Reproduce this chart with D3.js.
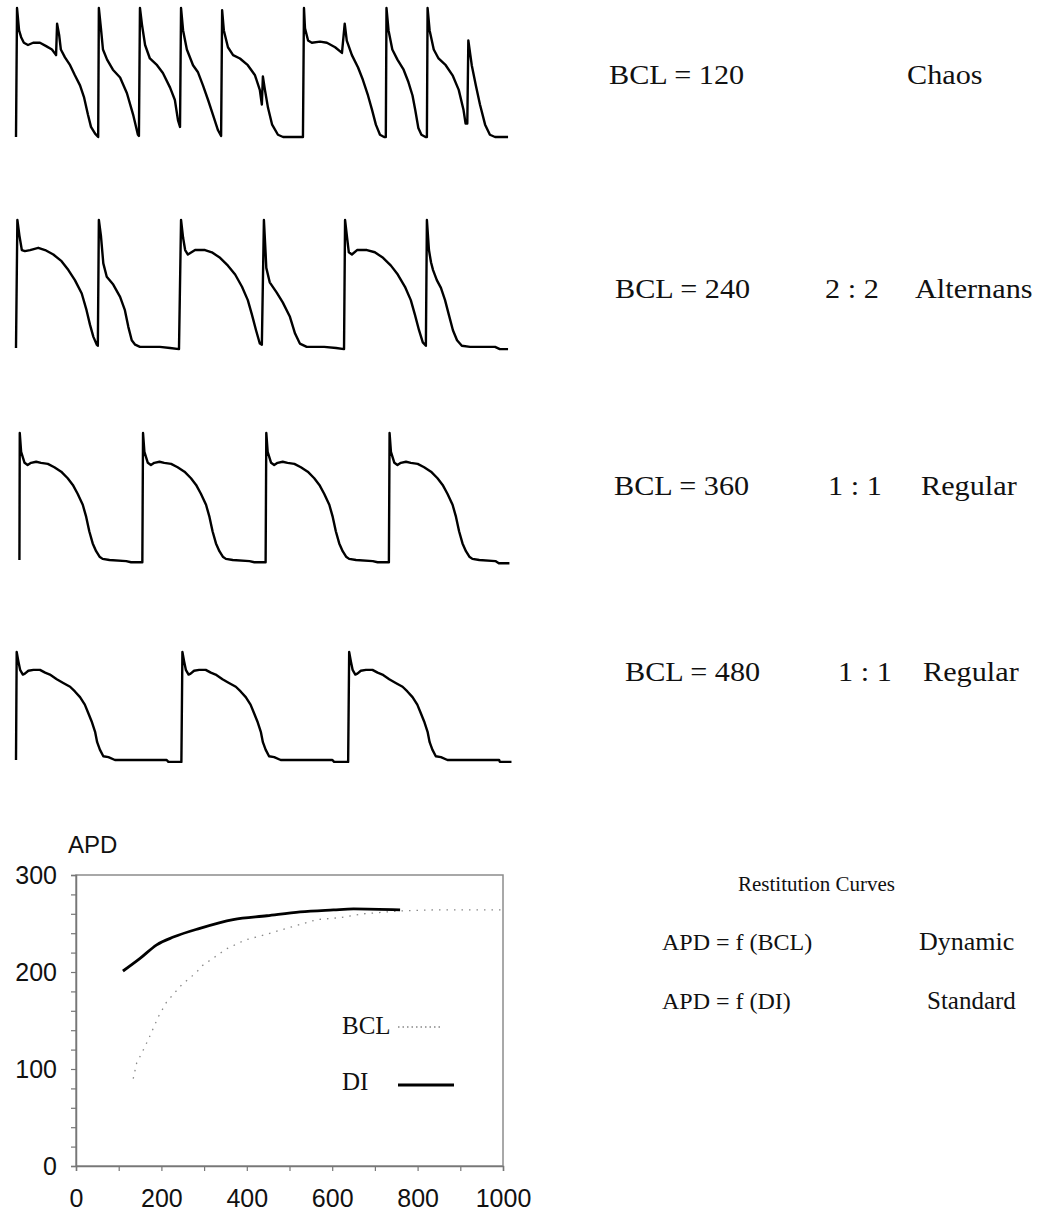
<!DOCTYPE html>
<html>
<head>
<meta charset="utf-8">
<script src="https://cdn.jsdelivr.net/npm/d3@7"></script>
<style>
  body { margin: 0; background: #fff; }
  svg { display: block; }
  .serif { font-family: "Liberation Serif", "Times New Roman", serif; fill: #111; }
  .sans { font-family: "Liberation Sans", Arial, sans-serif; fill: #111; }
</style>
</head>
<body>
<svg id="fig" width="1047" height="1217"></svg>
<script>
// membrane potential traces, [time (ms), potential (mV)]
const traceBCL120 = [
  [0,-85],[3,30],[9,10],[15,4],[23,-1],[35,-3],[50,-1],[70,-1],[88,-4],[105,-7],[117,-12],[120,16],[126,6],[131,-7],
  [143,-14],[158,-21],[172,-30],[187,-39],[199,-50],[210,-65],[219,-76],[231,-82],[240,-85],
  [242,30],[248,12],[254,-7],[266,-16],[283,-25],[304,-32],[324,-46],[342,-65],[356,-83],[359,-84],
  [362,30],[368,15],[377,-3],[391,-15],[412,-21],[429,-28],[450,-41],[464,-52],[473,-70],[479,-76],
  [482,30],[488,10],[499,-7],[517,-21],[531,-27],[546,-39],[561,-52],[575,-65],[590,-79],[599,-84],
  [602,28],[607,10],[619,-5],[634,-12],[654,-15],[677,-21],[698,-30],[712,-43],[718,-56],[721,-31],[727,-43],
  [736,-59],[748,-74],[765,-83],[780,-85],[838,-85],
  [841,30],[844,12],[853,1],[864,-1],[888,0],[908,-1],[932,-5],[952,-10],[960,16],[966,1],[981,-12],[999,-23],
  [1013,-34],[1028,-48],[1040,-61],[1051,-74],[1063,-83],[1075,-85],[1080,-85],
  [1082,30],[1088,10],[1099,-7],[1114,-16],[1132,-25],[1146,-36],[1158,-48],[1166,-61],[1175,-77],[1184,-83],[1196,-85],[1200,-85],
  [1202,30],[1208,10],[1220,-7],[1234,-15],[1255,-21],[1275,-30],[1293,-43],[1307,-61],[1313,-73],[1318,-73],[1321,1],
  [1331,-21],[1343,-39],[1355,-56],[1370,-74],[1384,-83],[1399,-85],[1437,-85]
];
const traceBCL240 = [
  [0,-85],[4,30],[10,16],[17,3],[26,2],[41,3],[65,5],[85,3],[109,-1],[133,-7],[153,-15],[172,-24],[192,-36],[206,-51],
  [216,-64],[226,-75],[236,-82],[239,-83],
  [242,30],[248,16],[255,-9],[265,-21],[284,-28],[304,-39],[318,-51],[328,-66],[338,-78],[348,-82],[362,-84],[420,-84],[450,-85],[476,-86],
  [482,30],[488,14],[494,3],[502,-1],[523,3],[552,3],[572,1],[596,-4],[619,-11],[640,-19],[660,-30],[677,-42],[689,-55],
  [701,-69],[712,-81],[718,-82],
  [724,30],[729,0],[731,-13],[741,-26],[761,-35],[779,-44],[800,-57],[815,-72],[829,-81],[849,-84],[900,-84],[935,-85],[958,-86],
  [961,30],[967,14],[972,1],[981,-1],[996,3],[1025,3],[1048,1],[1072,-4],[1095,-11],[1115,-19],[1136,-30],[1153,-42],
  [1165,-55],[1177,-69],[1188,-80],[1197,-83],
  [1200,30],[1206,3],[1212,-8],[1218,-15],[1229,-24],[1241,-31],[1253,-42],[1264,-55],[1276,-69],[1288,-78],[1302,-83],
  [1326,-84],[1399,-84],[1413,-86],[1437,-86]
];
const traceBCL360 = [
  [10,-85],[11,30],[15,13],[25,3],[34,1],[44,3],[59,4],[73,3],[93,2],[112,-1],[132,-5],[151,-11],[166,-17],[180,-25],
  [195,-35],[205,-46],[214,-59],[224,-70],[234,-77],[244,-82],[253,-84],[273,-85],[322,-86],[336,-87],[369,-87],
  [371,30],[375,13],[385,3],[394,1],[404,3],[419,4],[433,3],[453,2],[472,-1],[492,-5],[511,-11],[526,-17],[540,-25],
  [555,-35],[565,-46],[574,-59],[584,-70],[594,-77],[604,-82],[613,-84],[633,-85],[682,-86],[696,-87],[729,-87],
  [731,30],[735,13],[745,3],[754,1],[764,3],[779,4],[793,3],[813,2],[832,-1],[852,-5],[871,-11],[886,-17],[900,-25],
  [915,-35],[925,-46],[934,-59],[944,-70],[954,-77],[964,-82],[973,-84],[993,-85],[1042,-86],[1056,-87],[1089,-87],
  [1091,30],[1095,13],[1105,3],[1114,1],[1124,3],[1139,4],[1153,3],[1173,2],[1192,-1],[1212,-5],[1231,-11],[1246,-17],
  [1260,-25],[1275,-35],[1285,-46],[1294,-59],[1304,-70],[1314,-77],[1324,-82],[1333,-84],[1353,-85],[1400,-86],[1410,-88],[1441,-88]
];
const traceBCL480 = [
  [0,-85],[2,30],[7,20],[12,11],[20,6],[26,7],[36,10],[51,11],[70,11],[85,8],[99,6],[119,1],[138,-3],[158,-7],[172,-12],
  [187,-18],[201,-26],[211,-35],[221,-44],[231,-55],[237,-66],[245,-74],[255,-81],[270,-82],[289,-85],[343,-85],[440,-85],[445,-87],[483,-87],
  [486,30],[491,20],[496,11],[504,6],[510,7],[520,10],[535,11],[554,11],[569,8],[583,6],[603,1],[622,-3],[642,-7],[656,-12],
  [671,-18],[685,-26],[695,-35],[705,-44],[715,-55],[721,-66],[729,-74],[739,-81],[754,-82],[773,-85],[827,-85],[924,-85],[929,-87],[970,-87],
  [973,30],[978,20],[983,11],[991,6],[997,7],[1007,10],[1022,11],[1041,11],[1056,8],[1070,6],[1090,1],[1109,-3],[1129,-7],[1143,-12],
  [1158,-18],[1172,-26],[1182,-35],[1192,-44],[1202,-55],[1208,-66],[1216,-74],[1226,-81],[1241,-82],[1260,-85],[1314,-85],[1411,-85],[1413,-87],[1447,-87]
];

const bclLabels = ["BCL = 120", "BCL = 240", "BCL = 360", "BCL = 480"];
const ratioLabels = ["", "2 : 2", "1 : 1", "1 : 1"];
const rhythmLabels = ["Chaos", "Alternans", "Regular", "Regular"];

// restitution curves (APD vs BCL / DI, ms)
const diX = [110, 150, 189, 228, 290, 368, 447, 525, 603, 650, 759];
const diAPD = [201, 214, 228, 236, 245, 254, 258, 262, 264, 265, 264];
const bclX = [134, 142, 158, 169, 181, 193, 212, 248, 283, 294, 353, 396, 439, 493, 564, 618, 673, 759, 837, 907, 1000];
const bclAPD = [90, 106, 120, 130, 142, 154, 169, 187, 200, 206, 224, 233, 238, 245, 254, 256, 260, 263, 264, 264, 264];
const xTickLabels = [0, 200, 400, 600, 800, 1000];
const yTickLabels = [0, 100, 200, 300];

const svg = d3.select("#fig");

// ---- traces ----
const traces = [traceBCL120, traceBCL240, traceBCL360, traceBCL480];
const rows = [
  { top: 8, base: 137, labelY: 84 },
  { top: 220, base: 348, labelY: 298 },
  { top: 433, base: 560, labelY: 495 },
  { top: 652, base: 760, labelY: 681 }
];
const labelX = [[609, 0, 907], [615, 825, 915], [614, 828, 921], [625, 838, 923]];

const tx = d3.scaleLinear().domain([0, 1450]).range([16, 512.5]);

traces.forEach((tr, i) => {
  const r = rows[i];
  const ty = d3.scaleLinear().domain([-85, 30]).range([r.base, r.top]);
  const line = d3.line().x(d => tx(d[0])).y(d => ty(d[1]));
  svg.append("path")
    .datum(tr)
    .attr("d", line)
    .attr("fill", "none")
    .attr("stroke", "#000")
    .attr("stroke-width", 2.4)
    .attr("stroke-linejoin", "round");

  //labels on the right, slightly widened like the scan
  const texts = [bclLabels[i], ratioLabels[i], rhythmLabels[i]];
  texts.forEach((t, j) => {
    if (!t) return;
    svg.append("text")
      .attr("class", "serif")
      .attr("transform", `translate(${labelX[i][j]},${r.labelY}) scale(1.12,1)`)
      .attr("font-size", 27)
      .attr("xml:space", "preserve")
      .text(t);
  });
});

// ---- restitution chart ----
const cx = d3.scaleLinear().domain([0, 1000]).range([76, 503]);
const cy = d3.scaleLinear().domain([0, 300]).range([1166, 875]);

const g = svg.append("g");

g.append("rect")
  .attr("x", cx(0)).attr("y", cy(300))
  .attr("width", cx(1000) - cx(0)).attr("height", cy(0) - cy(300))
  .attr("fill", "none")
  .attr("stroke", "#8c8c8c")
  .attr("stroke-width", 1.5);

const yAxis = g.append("g")
  .attr("transform", `translate(${cx(0)},0)`)
  .call(d3.axisLeft(cy).tickValues(d3.range(0, 301, 20)).tickSize(5).tickPadding(14)
    .tickFormat(d => yTickLabels.includes(d) ? d : ""));
const xAxis = g.append("g")
  .attr("transform", `translate(0,${cy(0)})`)
  .call(d3.axisBottom(cx).tickValues(d3.range(0, 1001, 100)).tickSize(5).tickPadding(18)
    .tickFormat(d => xTickLabels.includes(d) ? d : ""));

[yAxis, xAxis].forEach(a => {
  a.select(".domain").attr("stroke", "#777").attr("stroke-width", 1.5);
  a.selectAll(".tick line").attr("stroke", "#777").attr("stroke-width", 1.2);
  a.selectAll(".tick text")
    .attr("class", "sans")
    .attr("font-size", 25)
    .attr("fill", "#111");
});

g.append("text")
  .attr("class", "sans")
  .attr("x", 68).attr("y", 853)
  .attr("font-size", 24)
  .text("APD");

const bclLine = d3.line().x((d, i) => cx(bclX[i])).y(d => cy(d));
g.append("path")
  .datum(bclAPD)
  .attr("d", bclLine)
  .attr("fill", "none")
  .attr("stroke", "#888")
  .attr("stroke-width", 1.3)
  .attr("stroke-dasharray", "1.5,6");

const diLine = d3.line().x((d, i) => cx(diX[i])).y(d => cy(d)).curve(d3.curveMonotoneX);
g.append("path")
  .datum(diAPD)
  .attr("d", diLine)
  .attr("fill", "none")
  .attr("stroke", "#000")
  .attr("stroke-width", 2.8);

// legend
g.append("text").attr("class", "serif").attr("x", 342).attr("y", 1034).attr("font-size", 25).text("BCL");
g.append("line").attr("x1", 398).attr("x2", 443).attr("y1", 1027).attr("y2", 1027)
  .attr("stroke", "#888").attr("stroke-width", 1.3).attr("stroke-dasharray", "1.5,3");
g.append("text").attr("class", "serif").attr("x", 342).attr("y", 1090).attr("font-size", 25).text("DI");
g.append("line").attr("x1", 398).attr("x2", 454).attr("y1", 1085).attr("y2", 1085)
  .attr("stroke", "#000").attr("stroke-width", 3);

// right side notes
const notes = [
  { x: 738, y: 891, t: "Restitution Curves", s: 21 },
  { x: 662, y: 950, t: "APD = f (BCL)", s: 24 },
  { x: 919, y: 950, t: "Dynamic", s: 26 },
  { x: 662, y: 1009, t: "APD = f (DI)", s: 24 },
  { x: 927, y: 1009, t: "Standard", s: 25 }
];
notes.forEach(n => {
  svg.append("text")
    .attr("class", "serif")
    .attr("x", n.x).attr("y", n.y)
    .attr("font-size", n.s)
    .text(n.t);
});
</script>
</body>
</html>
